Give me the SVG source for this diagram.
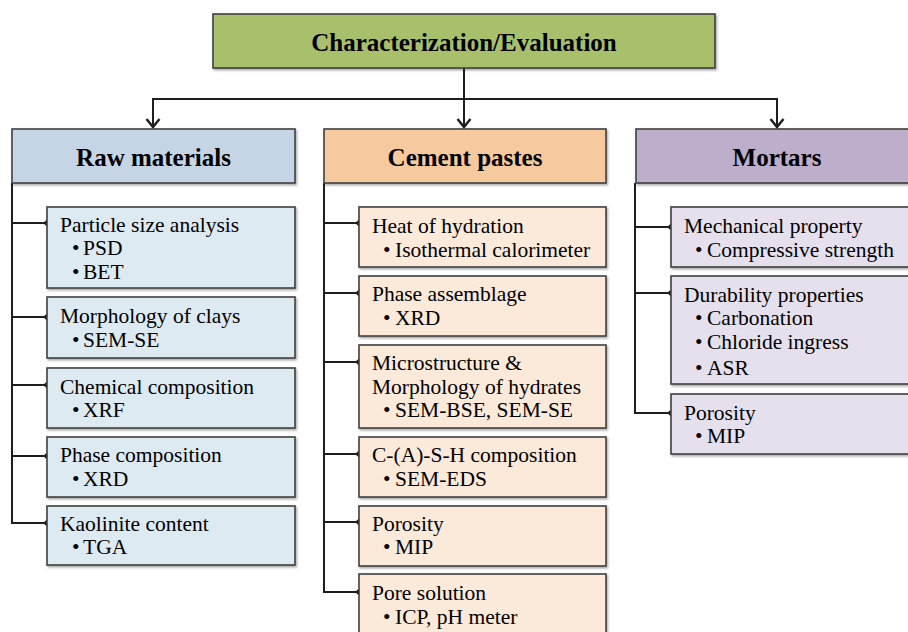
<svg xmlns="http://www.w3.org/2000/svg" width="908" height="632" viewBox="0 0 908 632">
<defs>
<style>
text{font-family:"Liberation Serif","Times New Roman",serif;fill:#000}
.hd{font-weight:bold;font-size:25px;text-anchor:middle}
.t{font-size:21.5px}
.box{stroke:#404040;stroke-width:1.6;filter:url(#sh)}
.raw{fill:#deeaf1}.cem{fill:#fbe9da}.mor{fill:#e5e0ec}
.ln{stroke:#1e1e1e;stroke-width:2;fill:none}
.br{stroke:#1e1e1e;stroke-width:2;fill:none;marker-end:url(#dia)}
.ar{stroke:#1e1e1e;stroke-width:2;fill:none;marker-end:url(#arr)}
</style>
<filter id="sh" x="-5%" y="-5%" width="110%" height="120%">
<feDropShadow dx="1.2" dy="1.6" stdDeviation="0.9" flood-color="#000" flood-opacity="0.35"/>
</filter>
<marker id="arr" markerUnits="userSpaceOnUse" viewBox="-10 -10 20 20" markerWidth="20" markerHeight="20" refX="0" refY="0" orient="auto">
<path d="M-8,-6.5 L0,0 L-8,6.5" fill="none" stroke="#1e1e1e" stroke-width="2.4"/>
</marker>
<marker id="dia" markerUnits="userSpaceOnUse" viewBox="-6 -6 12 12" markerWidth="12" markerHeight="12" refX="0" refY="0" orient="auto">
<path d="M-4,0 L0,-3.5 L4,0 L0,3.5 Z" fill="#1e1e1e"/>
</marker>
</defs>
<rect width="908" height="632" fill="#fff"/>

<g id="connectors">
<line class="ln" x1="464" y1="68" x2="464" y2="99"/>
<line class="ln" x1="153" y1="99" x2="777" y2="99"/>
<line class="ar" x1="153" y1="98" x2="153" y2="127"/>
<line class="ar" x1="464" y1="98" x2="464" y2="127"/>
<line class="ar" x1="777" y1="98" x2="777" y2="127"/>
<line class="ln" x1="12" y1="183" x2="12" y2="524"/>
<line class="br" x1="11" y1="223" x2="47" y2="223"/>
<line class="br" x1="11" y1="317" x2="47" y2="317"/>
<line class="br" x1="11" y1="385" x2="47" y2="385"/>
<line class="br" x1="11" y1="456" x2="47" y2="456"/>
<line class="br" x1="11" y1="523" x2="47" y2="523"/>
<line class="ln" x1="324" y1="183" x2="324" y2="593"/>
<line class="br" x1="323" y1="223" x2="359" y2="223"/>
<line class="br" x1="323" y1="293" x2="359" y2="293"/>
<line class="br" x1="323" y1="362" x2="359" y2="362"/>
<line class="br" x1="323" y1="454" x2="359" y2="454"/>
<line class="br" x1="323" y1="522" x2="359" y2="522"/>
<line class="br" x1="323" y1="592" x2="359" y2="592"/>
<line class="ln" x1="635" y1="183" x2="635" y2="414"/>
<line class="br" x1="634" y1="227" x2="671" y2="227"/>
<line class="br" x1="634" y1="293" x2="671" y2="293"/>
<line class="br" x1="634" y1="413" x2="671" y2="413"/>
</g>

<g id="root">
<rect class="box" x="213" y="14" width="502" height="54" fill="#a8bf6c"/>
<text class="hd" x="464" y="51">Characterization/Evaluation</text>
</g>

<g id="raw-materials">
<rect class="box" x="12" y="129" width="283" height="54" fill="#c5d5e6"/>
<text class="hd" x="153.5" y="166">Raw materials</text>
</g>
<g id="cement-pastes">
<rect class="box" x="324" y="129" width="282" height="54" fill="#f7c99f"/>
<text class="hd" x="465" y="166">Cement pastes</text>
</g>
<g id="mortars">
<rect class="box" x="636" y="129" width="290" height="54" fill="#bdaecc"/>
<text class="hd" x="777" y="166">Mortars</text>
</g>

<g id="raw-psa">
<rect class="box raw" x="47" y="207" width="248" height="81"/>
<text class="t" x="60" y="232">Particle size analysis</text>
<text class="t" x="72" y="255">•</text><text class="t" x="83" y="255">PSD</text>
<text class="t" x="72" y="279">•</text><text class="t" x="83" y="279">BET</text>
</g>
<g id="raw-morph">
<rect class="box raw" x="47" y="297" width="248" height="61"/>
<text class="t" x="60" y="323">Morphology of clays</text>
<text class="t" x="72" y="347">•</text><text class="t" x="83" y="347">SEM-SE</text>
</g>
<g id="raw-chem">
<rect class="box raw" x="47" y="368" width="248" height="60"/>
<text class="t" x="60" y="394">Chemical composition</text>
<text class="t" x="72" y="417">•</text><text class="t" x="83" y="417">XRF</text>
</g>
<g id="raw-phase">
<rect class="box raw" x="47" y="437" width="248" height="60"/>
<text class="t" x="60" y="462">Phase composition</text>
<text class="t" x="72" y="486">•</text><text class="t" x="83" y="486">XRD</text>
</g>
<g id="raw-kaol">
<rect class="box raw" x="47" y="506" width="248" height="59"/>
<text class="t" x="60" y="531">Kaolinite content</text>
<text class="t" x="72" y="554">•</text><text class="t" x="83" y="554">TGA</text>
</g>

<g id="cem-heat">
<rect class="box cem" x="359" y="207" width="247" height="60"/>
<text class="t" x="372" y="233">Heat of hydration</text>
<text class="t" x="383" y="257">•</text><text class="t" x="395" y="257">Isothermal calorimeter</text>
</g>
<g id="cem-phase">
<rect class="box cem" x="359" y="276" width="247" height="60"/>
<text class="t" x="372" y="301">Phase assemblage</text>
<text class="t" x="383" y="325">•</text><text class="t" x="395" y="325">XRD</text>
</g>
<g id="cem-micro">
<rect class="box cem" x="359" y="345" width="247" height="83"/>
<text class="t" x="372" y="370">Microstructure &amp;</text>
<text class="t" x="372" y="394">Morphology of hydrates</text>
<text class="t" x="383" y="417">•</text><text class="t" x="395" y="417">SEM-BSE, SEM-SE</text>
</g>
<g id="cem-cash">
<rect class="box cem" x="359" y="437" width="247" height="60"/>
<text class="t" x="372" y="462">C-(A)-S-H composition</text>
<text class="t" x="383" y="486">•</text><text class="t" x="395" y="486">SEM-EDS</text>
</g>
<g id="cem-por">
<rect class="box cem" x="359" y="506" width="247" height="60"/>
<text class="t" x="372" y="531">Porosity</text>
<text class="t" x="383" y="554">•</text><text class="t" x="395" y="554">MIP</text>
</g>
<g id="cem-pore">
<rect class="box cem" x="359" y="574" width="247" height="70"/>
<text class="t" x="372" y="600">Pore solution</text>
<text class="t" x="383" y="624">•</text><text class="t" x="395" y="624">ICP, pH meter</text>
</g>

<g id="mor-mech">
<rect class="box mor" x="671" y="207" width="250" height="60"/>
<text class="t" x="684" y="233">Mechanical property</text>
<text class="t" x="695" y="257">•</text><text class="t" x="707" y="257">Compressive strength</text>
</g>
<g id="mor-dur">
<rect class="box mor" x="671" y="276" width="250" height="108"/>
<text class="t" x="684" y="302">Durability properties</text>
<text class="t" x="695" y="325">•</text><text class="t" x="707" y="325">Carbonation</text>
<text class="t" x="695" y="349">•</text><text class="t" x="707" y="349">Chloride ingress</text>
<text class="t" x="695" y="375">•</text><text class="t" x="707" y="375">ASR</text>
</g>
<g id="mor-por">
<rect class="box mor" x="671" y="394" width="250" height="60"/>
<text class="t" x="684" y="420">Porosity</text>
<text class="t" x="695" y="443">•</text><text class="t" x="707" y="443">MIP</text>
</g>
</svg>
